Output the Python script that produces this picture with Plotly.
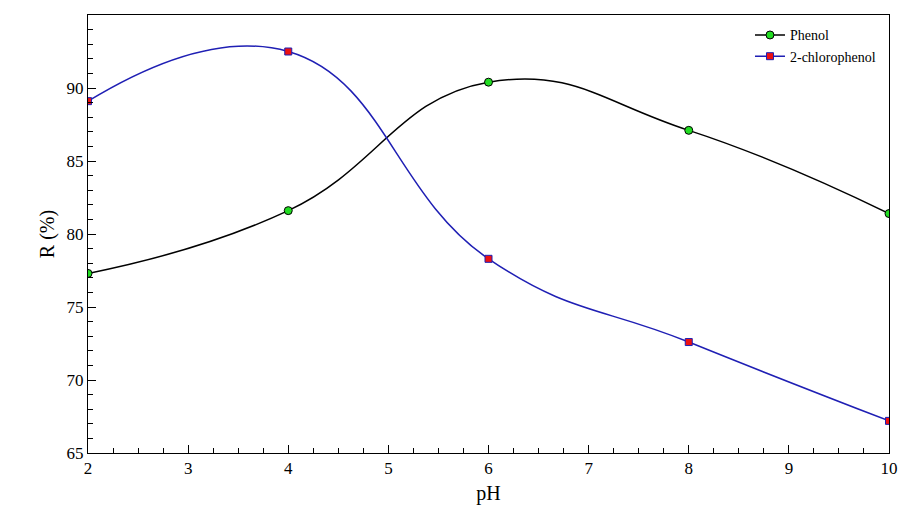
import plotly.graph_objects as go

# values
ph = [2, 4, 6, 8, 10]
phenol = [77.3, 81.6, 90.4, 87.1, 81.4]
chlorophenol = [89.1, 92.5, 78.3, 72.6, 67.2]

fig = go.Figure()

fig.add_trace(go.Scatter(
    x=ph, y=phenol, name="Phenol", mode="lines+markers",
    line=dict(color="black", width=1.5, shape="spline", smoothing=1.3),
    marker=dict(symbol="circle", size=8, color="#22dd22",
                line=dict(color="black", width=1))
))
fig.add_trace(go.Scatter(
    x=ph, y=chlorophenol, name="2-chlorophenol", mode="lines+markers",
    line=dict(color="#1f1fb4", width=1.5, shape="spline", smoothing=1.3),
    marker=dict(symbol="square", size=7, color="#ee1111",
                line=dict(color="#1f1fb4", width=1))
))

axis_style = dict(
    showline=True, linecolor="black", linewidth=1, mirror=True,
    ticks="inside", ticklen=8, tickcolor="black", showgrid=False,
    zeroline=False, tickfont=dict(size=17, color="black"),
)

fig.update_xaxes(
    range=[2, 10], dtick=1, title=dict(text="pH", font=dict(size=20), standoff=8),
    minor=dict(dtick=0.25, ticks="inside", ticklen=5, tickcolor="black"),
    **axis_style
)
fig.update_yaxes(
    range=[65, 95], dtick=5, title=dict(text="R (%)", font=dict(size=20), standoff=6),
    minor=dict(dtick=1, ticks="inside", ticklen=5, tickcolor="black"),
    **axis_style
)

fig.update_layout(
    width=896, height=507,
    margin=dict(l=80, r=11, t=6, b=62),
    plot_bgcolor="white", paper_bgcolor="white",
    font=dict(family="Liberation Serif", color="black"),
    legend=dict(x=0.99, y=0.99, xanchor="right", yanchor="top",
                font=dict(size=14), bgcolor="rgba(0,0,0,0)"),
)

fig.write_html("out.html")
